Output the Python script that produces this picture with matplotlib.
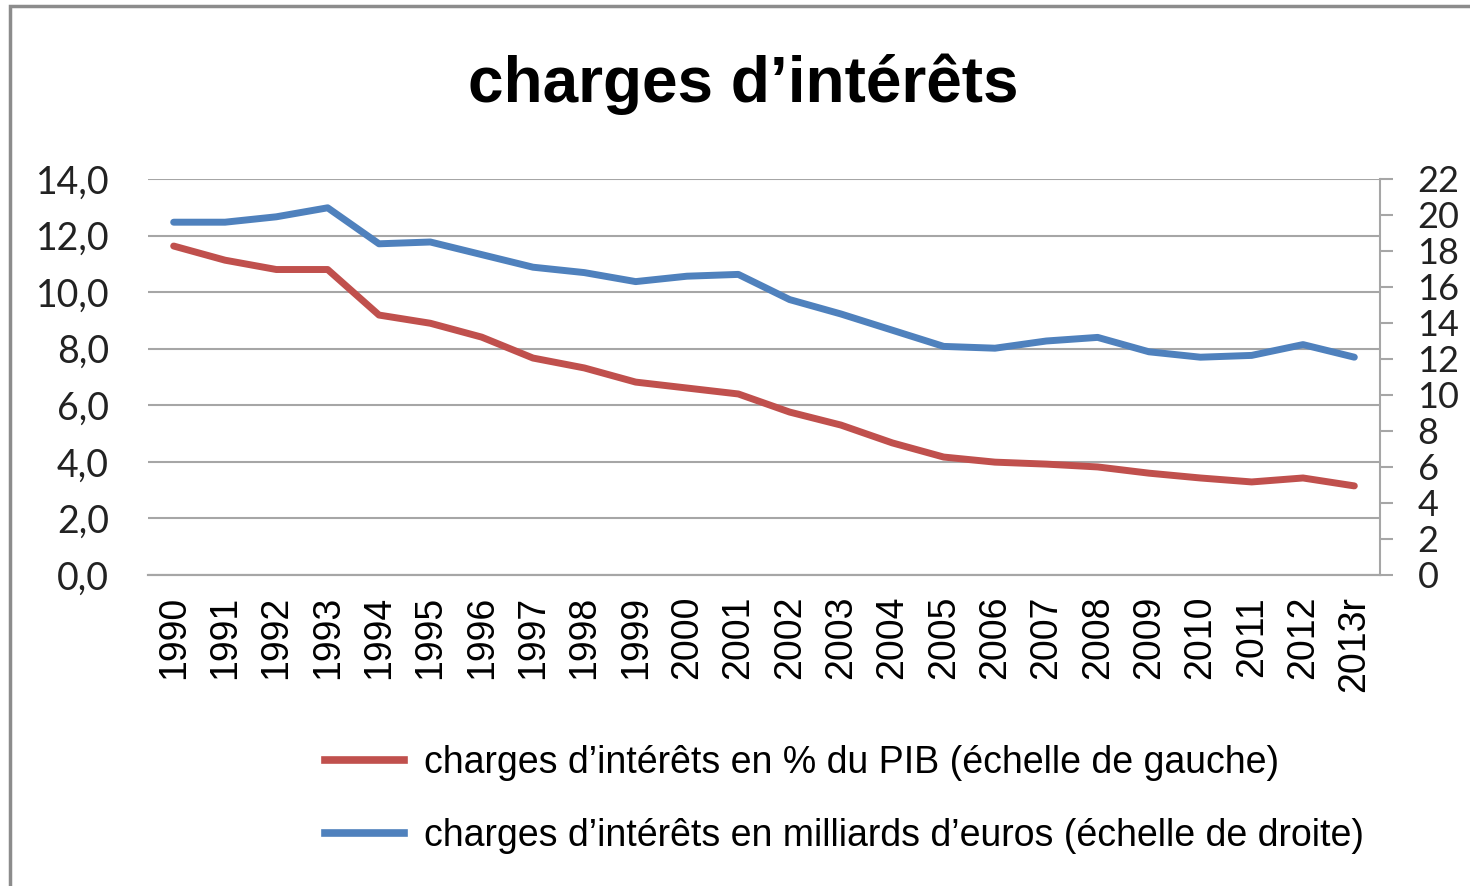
import matplotlib
matplotlib.use("Agg")
import matplotlib.pyplot as plt
from matplotlib.patches import Rectangle
from matplotlib.lines import Line2D

# Donnees
annees = ['1990', '1991', '1992', '1993', '1994', '1995', '1996', '1997', '1998', '1999',
          '2000', '2001', '2002', '2003', '2004', '2005', '2006', '2007', '2008', '2009',
          '2010', '2011', '2012', '2013r']
pct_pib = [11.63, 11.13, 10.8, 10.8, 9.19, 8.9, 8.41, 7.67, 7.32, 6.82,
           6.61, 6.4, 5.76, 5.3, 4.67, 4.17, 3.99, 3.92, 3.82, 3.6,
           3.43, 3.29, 3.43, 3.15]
milliards = [19.6, 19.6, 19.9, 20.4, 18.4, 18.5, 17.8, 17.1, 16.8, 16.3,
             16.6, 16.7, 15.3, 14.5, 13.6, 12.7, 12.6, 13.0, 13.2, 12.4,
             12.1, 12.2, 12.8, 12.1]
ticks_gauche = [0, 2, 4, 6, 8, 10, 12, 14]
ticks_droite = [0, 2, 4, 6, 8, 10, 12, 14, 16, 18, 20, 22]

rouge = '#C0504D'
bleu = '#4F81BD'
gris = '#A6A6A6'

fig = plt.figure(figsize=(14.7, 8.86), dpi=100)
ax = fig.add_axes([148/1470, 1 - 575/886, (1380 - 148)/1470, (575 - 179)/886])
ax2 = ax.twinx()

x = list(range(len(annees)))
ax.plot(x, pct_pib, color=rouge, lw=5, solid_capstyle='round', solid_joinstyle='round', zorder=3)
ax2.plot(x, milliards, color=bleu, lw=5, solid_capstyle='round', solid_joinstyle='round', zorder=3)

ax.set_xlim(-0.5, len(annees) - 0.5)
ax.set_ylim(0, 14)
ax2.set_ylim(0, 22)

ax.set_yticks(ticks_gauche)
ax.set_yticklabels([f"{v:.1f}".replace('.', ',') for v in ticks_gauche],
                   fontsize=27, fontfamily='Lato', color='#222222')
ax.tick_params(axis='y', length=0, pad=28)
ax.grid(axis='y', color=gris, lw=1.5)
ax.set_axisbelow(True)

ax.set_xticks(x)
ax.set_xticklabels(annees, rotation=90, fontsize=27, fontfamily='Liberation Sans')
ax.tick_params(axis='x', length=0, pad=15)

ax2.set_yticks(ticks_droite)
ax2.set_yticklabels([str(v) for v in ticks_droite], fontsize=26, fontfamily='Lato', color='#222222')
ax2.tick_params(axis='y', length=9, width=1.5, color=gris, pad=18)

for a in (ax, ax2):
    for s in ('top', 'left', 'right'):
        a.spines[s].set_visible(False)
    a.spines['bottom'].set_color(gris)
    a.spines['bottom'].set_linewidth(1.5)
ax2.spines['right'].set_visible(True)
ax2.spines['right'].set_color(gris)
ax2.spines['right'].set_linewidth(1.5)

fig.text(743/1470, 1 - 84/886, 'charges d\u2019int\u00e9r\u00eats', ha='center', va='center',
         fontsize=46, fontweight='bold', fontfamily='Liberation Sans')

# legende
handles = [Line2D([], [], color=rouge, lw=5.5), Line2D([], [], color=bleu, lw=5.5)]
labels = ['charges d\u2019int\u00e9r\u00eats en % du PIB (\u00e9chelle de gauche)',
          'charges d\u2019int\u00e9r\u00eats en milliards d\u2019euros (\u00e9chelle de droite)']
fig.legend(handles, labels, loc='upper left', bbox_to_anchor=(325/1470, 1 - 745/886),
           frameon=False, prop={'family': 'Liberation Sans', 'size': 27},
           handlelength=2.1, handletextpad=0.55, labelspacing=0.98, borderpad=0, borderaxespad=0)

# cadre gris
fig.patches.append(Rectangle((10/1470, -0.1), 1.1, 1 - 6/886 + 0.1, transform=fig.transFigure,
                             fill=False, edgecolor='#8C8C8C', lw=2.5))

fig.savefig('out.png', dpi=100)
